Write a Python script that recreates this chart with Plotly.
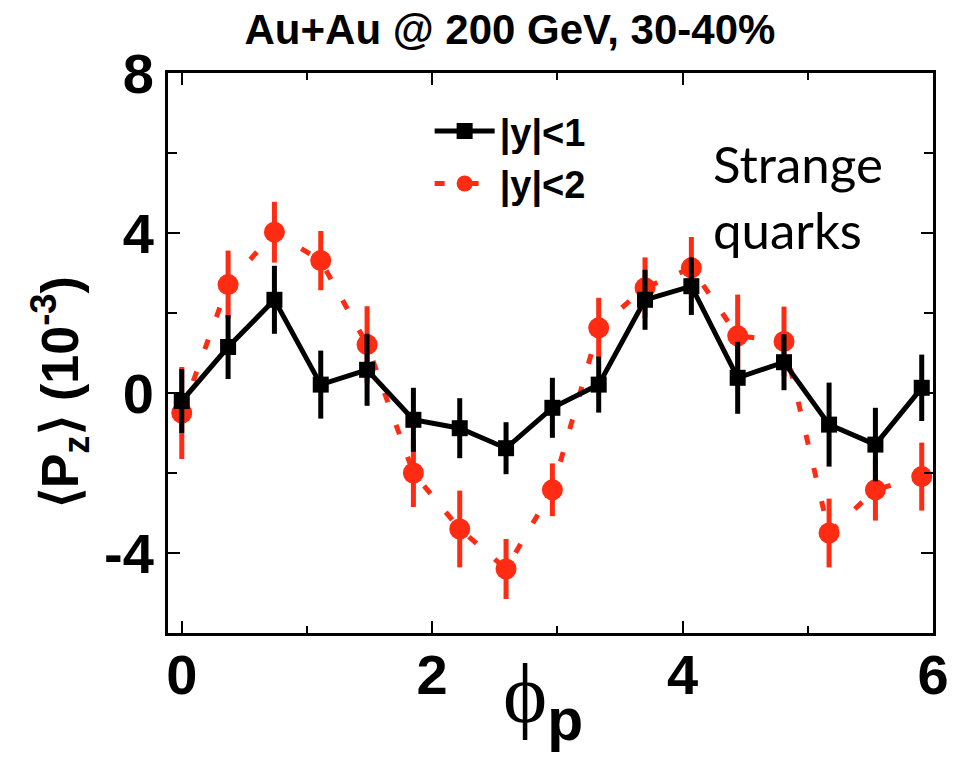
import plotly.graph_objects as go

# Data
phi = [0.00, 0.37, 0.74, 1.11, 1.48, 1.85, 2.22, 2.59, 2.96, 3.33, 3.70, 4.07, 4.44, 4.81, 5.17, 5.54, 5.91]
pz_y1 = [-0.20, 1.15, 2.33, 0.21, 0.58, -0.67, -0.88, -1.38, -0.37, 0.21, 2.33, 2.67, 0.38, 0.77, -0.79, -1.29, 0.13]
err_y1 = [0.80, 0.80, 0.85, 0.85, 0.90, 0.80, 0.75, 0.65, 0.75, 0.70, 0.75, 0.72, 0.90, 0.70, 1.05, 0.92, 0.83]
pz_y2 = [-0.50, 2.71, 4.02, 3.31, 1.21, -2.00, -3.40, -4.40, -2.42, 1.63, 2.63, 3.13, 1.43, 1.29, -3.50, -2.42, -2.09]
err_y2 = [1.15, 0.85, 0.76, 0.74, 0.96, 0.85, 0.96, 0.75, 0.66, 0.75, 0.76, 0.77, 1.03, 0.87, 0.86, 0.77, 0.85]

x_ticks = [0, 2, 4, 6]
y_ticks = [-4, 0, 4, 8]

RED = "#FF2B12"
BOLD = "Liberation Sans, Arial, sans-serif"

fig = go.Figure()

fig.add_trace(go.Scatter(
    x=phi, y=pz_y2, name="|y|<2", mode="lines+markers",
    line=dict(color=RED, width=5, dash="10px,24px"),
    marker=dict(symbol="circle", size=21, color=RED),
    error_y=dict(type="data", array=err_y2, color=RED, thickness=5, width=0),
    legendrank=2,
))
fig.add_trace(go.Scatter(
    x=phi, y=pz_y1, name="|y|<1", mode="lines+markers",
    line=dict(color="black", width=5),
    marker=dict(symbol="square", size=16, color="black"),
    error_y=dict(type="data", array=err_y1, color="black", thickness=5, width=0),
    legendrank=1,
))

axis_common = dict(
    showline=True, linecolor="black", linewidth=3, mirror="ticks",
    ticks="inside", tickcolor="black", tickwidth=2, ticklen=12,
    showgrid=False, zeroline=False, automargin=False,
    tickfont=dict(family=BOLD, size=56, color="black", weight="bold"),
)

fig.update_xaxes(
    range=[-0.11, 6.0], tickvals=x_ticks, ticktext=[str(v) for v in x_ticks],
    minor=dict(dtick=1, tick0=0, ticks="inside", ticklen=7, tickwidth=2, tickcolor="black"),
    ticklabelstandoff=-9,
    **axis_common,
)
fig.update_yaxes(
    range=[-6, 8], tickvals=y_ticks, ticktext=[str(v) for v in y_ticks],
    minor=dict(dtick=2, tick0=0, ticks="inside", ticklen=9, tickwidth=2, tickcolor="black"),
    ticklabelstandoff=0,
    **axis_common,
)

# Axis titles
fig.add_annotation(
    text="ϕ<sub><span style=\"font-family:Liberation Sans, Arial, sans-serif\"><b>p</b></span></sub>",
    xref="paper", yref="paper",
    x=0.49, y=-0.118, xanchor="center", yanchor="middle", showarrow=False,
    font=dict(family="Liberation Serif, DejaVu Serif, serif", size=84, color="black"),
)
fig.add_annotation(
    text="⟨P<sub>z</sub>⟩ (10<sup>-3</sup>)", xref="paper", yref="paper",
    x=-0.141, y=0.43, xanchor="center", yanchor="middle", textangle=-90, showarrow=False,
    font=dict(family=BOLD, size=52, color="black", weight="bold"),
)

fig.add_annotation(
    text="Strange<br>quarks", xref="paper", yref="paper",
    x=0.71, y=0.897, xanchor="left", yanchor="top", align="left",
    showarrow=False, font=dict(family="Lato, Open Sans, sans-serif", size=51, color="black"),
)

fig.update_layout(
    width=965, height=757,
    margin=dict(l=168, r=32, t=73, b=124),
    paper_bgcolor="white", plot_bgcolor="white",
    title=dict(text="Au+Au @ 200 GeV, 30-40%", x=0.447, xref="paper", xanchor="center",
               y=1 - 29 / 757, yref="container", yanchor="middle",
               font=dict(family=BOLD, size=42, color="black", weight="bold")),
    legend=dict(x=0.342, y=0.952, xanchor="left", yanchor="top",
                bgcolor="rgba(0,0,0,0)", borderwidth=0, itemwidth=60,
                tracegroupgap=0,
                font=dict(family=BOLD, size=38, color="black", weight="bold")),
    showlegend=True,
)

fig.write_html("out.html")
